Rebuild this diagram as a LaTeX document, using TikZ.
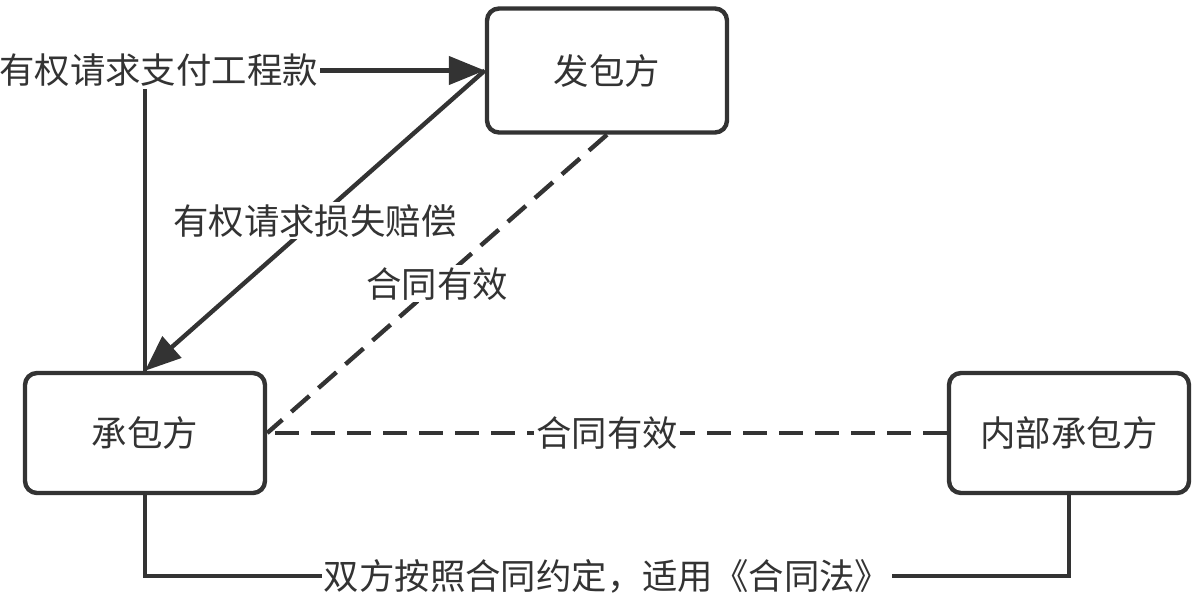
\documentclass[tikz,border=0pt]{standalone}
\usepackage{fontspec}
\newfontfamily\cjk{Noto Sans CJK SC}
\usetikzlibrary{arrows.meta}
\definecolor{inkgray}{HTML}{333333}
\begin{document}
\begin{tikzpicture}[x=0.5pt,y=-0.5pt,
    >={Triangle[length=18pt,width=14pt]},
    every node/.style={font=\cjk\fontsize{17.7}{21}\selectfont,text=inkgray},
    party/.style={draw=inkgray,line width=2.2pt,rounded corners=6pt,minimum width=120pt,minimum height=60pt},
    link/.style={draw=inkgray,line width=2.2pt},
    dashlink/.style={link,dash pattern=on 12pt off 6pt},
    tag/.style={fill=white,inner sep=1pt}]
\useasboundingbox (0,0) rectangle (1200,601);
% parties
\node[party,minimum height=62pt] (fabao) at (607,70.5) {发包方};
\node[party] (chengbao) at (145,433) {承包方};
\node[party] (neibu) at (1069,433) {内部承包方};
% claims
\draw[link,->] (chengbao.north) |- (fabao.west) node[pos=0.52,tag]{有权请求支付工程款};
\draw[link,->] (fabao.west) -- (chengbao.north) node[midway,tag]{有权请求损失赔偿};
% contracts
\draw[dashlink] (fabao.south) -- (chengbao.east) node[midway,tag]{合同有效};
\draw[dashlink] (neibu.west) -- (chengbao.east) node[midway,tag]{合同有效};
\draw[link] (chengbao.south) -- ++(0,81) -| (neibu.south) node[pos=0.25,tag]{双方按照合同约定，适用《合同法》};
\end{tikzpicture}
\end{document}
